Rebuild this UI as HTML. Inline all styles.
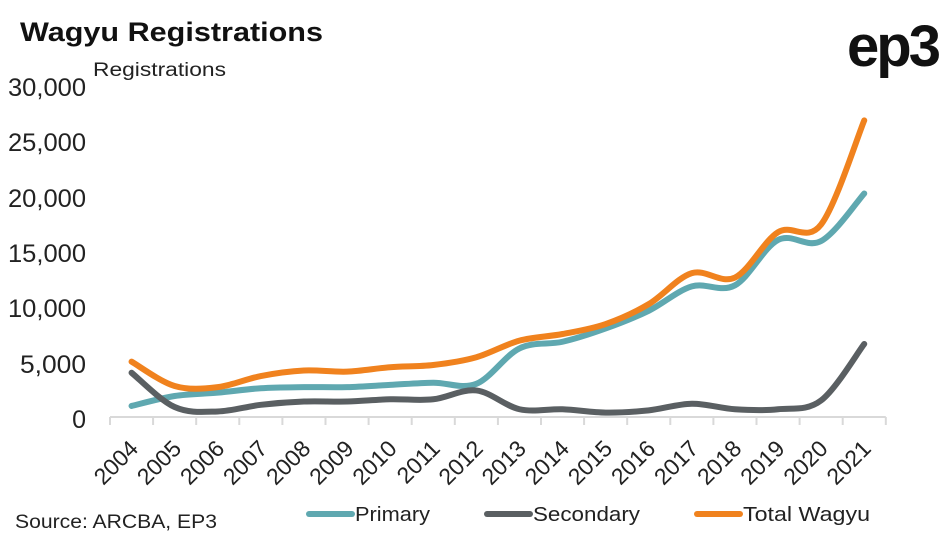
<!DOCTYPE html>
<html><head><meta charset="utf-8"><style>
html,body{margin:0;padding:0;background:#fff;width:945px;height:541px;overflow:hidden}
svg text{font-family:"Liberation Sans",sans-serif}
</style></head><body>
<svg id="s" width="945" height="541" xmlns="http://www.w3.org/2000/svg">
<text x="20" y="41" font-size="27" font-weight="bold" fill="#111" textLength="303" lengthAdjust="spacingAndGlyphs">Wagyu Registrations</text>
<text x="938" y="66" font-size="58" font-weight="bold" fill="#111" text-anchor="end" letter-spacing="-3">ep3</text>
<text x="93" y="76" font-size="19" fill="#222" textLength="133" lengthAdjust="spacingAndGlyphs">Registrations</text>
<g font-size="25" fill="#222" text-anchor="end">
<text x="86" y="96" textLength="78" lengthAdjust="spacingAndGlyphs">30,000</text>
<text x="86" y="151" textLength="78" lengthAdjust="spacingAndGlyphs">25,000</text>
<text x="86" y="207" textLength="78" lengthAdjust="spacingAndGlyphs">20,000</text>
<text x="86" y="262" textLength="78" lengthAdjust="spacingAndGlyphs">15,000</text>
<text x="86" y="317" textLength="78" lengthAdjust="spacingAndGlyphs">10,000</text>
<text x="86" y="373" textLength="66" lengthAdjust="spacingAndGlyphs">5,000</text>
<text x="86" y="428">0</text>
</g>
<g id="ax" stroke="#d9d9d9" stroke-width="2"></g>
<g id="lab" font-size="23" fill="#222" text-anchor="end"></g>
<g id="ln" fill="none" stroke-width="6" stroke-linecap="round"></g>
<text x="15" y="528" font-size="19" fill="#222" textLength="202" lengthAdjust="spacingAndGlyphs">Source: ARCBA, EP3</text>
<line x1="309" y1="514" x2="352" y2="514" stroke="#5fa8b0" stroke-width="6" stroke-linecap="round"/>
<text x="355" y="521" font-size="20" fill="#222" textLength="75" lengthAdjust="spacingAndGlyphs">Primary</text>
<line x1="487" y1="514" x2="530" y2="514" stroke="#5a5f62" stroke-width="6" stroke-linecap="round"/>
<text x="533" y="521" font-size="20" fill="#222" textLength="107" lengthAdjust="spacingAndGlyphs">Secondary</text>
<line x1="697" y1="514" x2="740" y2="514" stroke="#f0821e" stroke-width="6" stroke-linecap="round"/>
<text x="743" y="521" font-size="20" fill="#222" textLength="127" lengthAdjust="spacingAndGlyphs">Total Wagyu</text>
</svg>
<script>
var NS="http://www.w3.org/2000/svg";
function el(t,a,p){var e=document.createElementNS(NS,t);for(var k in a)e.setAttribute(k,a[k]);p.appendChild(e);return e;}
var ax=document.getElementById('ax'),lab=document.getElementById('lab'),ln=document.getElementById('ln');
var x0=110,st=43.1,y0=417;
el('line',{x1:x0,y1:y0,x2:x0+18*st,y2:y0},ax);
for(var i=0;i<=18;i++)el('line',{x1:x0+i*st,y1:y0,x2:x0+i*st,y2:y0+8},ax);
for(var i=0;i<18;i++){var cx=x0+st*(i+0.5)+8,cy=y0+33;var t=el('text',{x:cx,y:cy,transform:'rotate(-45 '+cx+' '+cy+')'},lab);t.textContent=2004+i;}
var P=[1000,1900,2200,2600,2700,2700,2900,3100,3000,6200,6800,8000,9600,11800,11900,16000,15900,20200];
var S=[4000,900,500,1100,1400,1400,1600,1600,2400,700,700,400,600,1200,700,700,1500,6600];
var T=[5000,2800,2700,3700,4200,4100,4500,4700,5400,6900,7500,8400,10200,13000,12600,16700,17400,26800];
function path(d){var p=d.map(function(v,i){return [x0+st*(i+0.5),y0-v*332/30000];});
var s='M'+p[0][0]+','+p[0][1];
for(var i=0;i<p.length-1;i++){var a=p[i-1]||p[i],b=p[i],c=p[i+1],e=p[i+2]||c;
s+=' C'+(b[0]+(c[0]-a[0])/6)+','+(b[1]+(c[1]-a[1])/6)+' '+(c[0]-(e[0]-b[0])/6)+','+(c[1]-(e[1]-b[1])/6)+' '+c[0]+','+c[1];}
return s;}
el('path',{d:path(P),stroke:'#5fa8b0'},ln);
el('path',{d:path(S),stroke:'#5a5f62'},ln);
el('path',{d:path(T),stroke:'#f0821e'},ln);
</script>
</body></html>
